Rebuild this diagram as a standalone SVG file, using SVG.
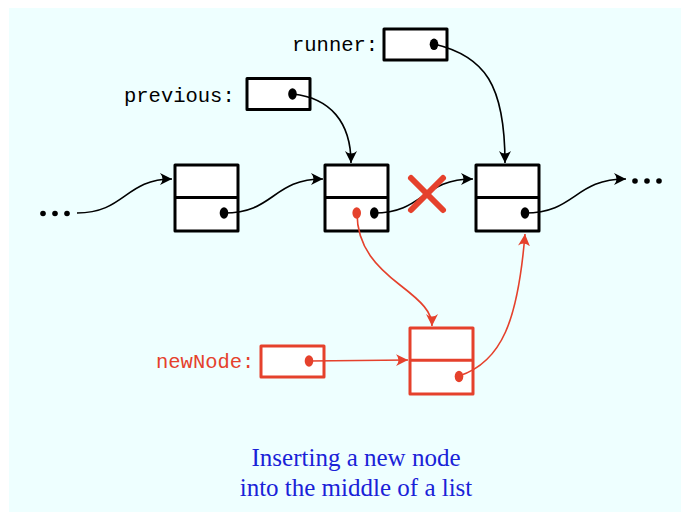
<svg xmlns="http://www.w3.org/2000/svg" width="681" height="512" viewBox="0 0 681 512">
<defs>
<style>
.box{fill:#fff;stroke:#000;stroke-width:3;stroke-linejoin:round}
.rbox{fill:#fff;stroke:#E5412C;stroke-width:3;stroke-linejoin:round}
.div{stroke:#000;stroke-width:3}
.rdiv{stroke:#E5412C;stroke-width:3}
.conn{fill:none;stroke:#000;stroke-width:1.6}
.rconn{fill:none;stroke:#E5412C;stroke-width:1.6}
.mono{font-family:"Liberation Mono","Courier New",monospace;font-size:20.5px}
.cap{font-family:"Liberation Serif","Times New Roman",serif;font-size:25px;fill:#1A22D8;text-anchor:middle}
</style>
<marker id="ah" viewBox="-12 -7 14 14" markerWidth="14" markerHeight="14" refX="0" refY="0" orient="auto" markerUnits="userSpaceOnUse">
<path d="M0,0 L-12,-6 Q-7,0 -12,6 Z" fill="#000"/>
</marker>
<marker id="rah" viewBox="-12 -7 14 14" markerWidth="14" markerHeight="14" refX="0" refY="0" orient="auto" markerUnits="userSpaceOnUse">
<path d="M0,0 L-12,-6 Q-7,0 -12,6 Z" fill="#E5412C"/>
</marker>
</defs>
<rect x="9" y="8" width="672" height="504" fill="#EEFFFF"/>

<g id="dots-left" fill="#000">
<circle cx="43" cy="213.5" r="2.8"/><circle cx="55" cy="213.5" r="2.8"/><circle cx="67" cy="213.5" r="2.8"/>
</g>
<g id="dots-right" fill="#000">
<circle cx="635" cy="181" r="2.8"/><circle cx="647" cy="181" r="2.8"/><circle cx="659" cy="181" r="2.8"/>
</g>

<g id="runner">
<text class="mono" x="292" y="51">runner:</text>
<rect class="box" x="384" y="29" width="63" height="31"/>
<ellipse cx="434" cy="44.3" rx="4.3" ry="5.8"/>
</g>
<g id="previous">
<text class="mono" x="124" y="102">previous:</text>
<rect class="box" x="247" y="78.5" width="63" height="31"/>
<ellipse cx="292.5" cy="94" rx="4.3" ry="5.8"/>
</g>

<g id="node1">
<rect class="box" x="175" y="165" width="63" height="66"/>
<line class="div" x1="175" y1="197.5" x2="238" y2="197.5"/>
<ellipse cx="224" cy="213" rx="4.3" ry="5.8"/>
</g>
<g id="node2">
<rect class="box" x="325" y="165" width="63" height="66"/>
<line class="div" x1="325" y1="197.5" x2="388" y2="197.5"/>
<ellipse cx="374.3" cy="213" rx="4.3" ry="5.8"/>
<ellipse cx="356.7" cy="213" rx="4.3" ry="5.8" fill="#E5412C"/>
</g>
<g id="node3">
<rect class="box" x="476" y="165" width="63" height="66"/>
<line class="div" x1="476" y1="197.5" x2="539" y2="197.5"/>
<ellipse cx="525" cy="213" rx="4.3" ry="5.8"/>
</g>

<g id="newNodeVar">
<text class="mono" x="156" y="368" fill="#E5412C">newNode:</text>
<rect class="rbox" x="261" y="346" width="63" height="31"/>
<ellipse cx="309" cy="361" rx="4.3" ry="5.8" fill="#E5412C"/>
</g>
<g id="newNode">
<rect class="rbox" x="410" y="328" width="63" height="66"/>
<line class="rdiv" x1="410" y1="360.3" x2="473" y2="360.3"/>
<ellipse cx="459" cy="376.5" rx="4.3" ry="5.8" fill="#E5412C"/>
</g>

<g id="connectors">
<path class="conn" d="M77,213 C125,213 125,179 172,179" marker-end="url(#ah)"/>
<path class="conn" d="M224,213 C275,213 272,179 323,179" marker-end="url(#ah)"/>
<path class="conn" d="M374,213 C424,213 422,179 473,179" marker-end="url(#ah)"/>
<path class="conn" d="M525,213 C576,213 574,179 626,179" marker-end="url(#ah)"/>
<path class="conn" d="M293,94 C330,98 351,122 351,163" marker-end="url(#ah)"/>
<path class="conn" d="M434,44 C485,56 505,85 505,163" marker-end="url(#ah)"/>
<path class="rconn" d="M357,213 C357,248 378,268 400,285 C422,302 432,312 432,326" marker-end="url(#rah)"/>
<path class="rconn" d="M309,361 L408,360" marker-end="url(#rah)"/>
<path class="rconn" d="M459,376 C502,362 518,320 525,234" marker-end="url(#rah)"/>
</g>

<g id="cross" stroke="#E5412C" stroke-width="6" stroke-linecap="round">
<line x1="411" y1="178" x2="443" y2="210"/>
<line x1="443" y1="178" x2="411" y2="210"/>
</g>

<g id="caption">
<text class="cap" x="356" y="466">Inserting a new node</text>
<text class="cap" x="356" y="496">into the middle of a list</text>
</g>
</svg>
